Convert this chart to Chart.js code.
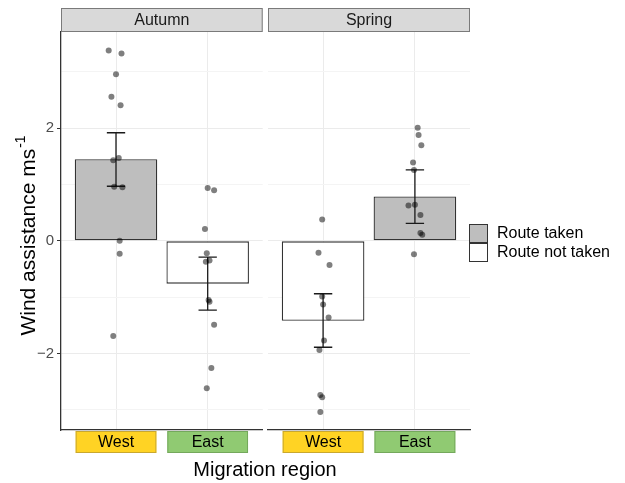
<!DOCTYPE html>
<html>
<head>
<meta charset="utf-8">
<script src="https://cdn.jsdelivr.net/npm/chart.js@4.4.1/dist/chart.umd.min.js"></script>
<style>
    body { margin: 0; background: #fff; }
    #wrap { position: relative; width: 625px; height: 483px; }
</style>
</head>
<body>
<div id="wrap">
    <div style="position:absolute;left:0;top:0;width:625px;height:483px"><canvas id="autumn-chart"></canvas></div>
    <div style="position:absolute;left:263px;top:0;width:362px;height:483px"><canvas id="spring-chart"></canvas></div>
</div>
<script>
// Facets, categories and legend
const seasons = ['Autumn', 'Spring'];
const regions = ['West', 'East'];
const routeLabels = ['Route taken', 'Route not taken'];

// Mean wind assistance (bars) and error bar limits, West then East
const autumnMeans = [1.45, -0.76];
const autumnLow = [0.97, -1.23];
const autumnHigh = [1.92, -0.29];
const autumnTaken = [true, false];

const springMeans = [-1.42, 0.79];
const springLow = [-1.89, 0.31];
const springHigh = [-0.94, 1.26];
const springTaken = [false, true];

// Individual (jittered) points, x = 1 West, 2 East
const autumnPointsX = [0.92, 1.06, 1.00, 0.95, 1.05, 1.03, 0.97, 0.98, 1.07, 1.04, 1.04, 0.97,
                       2.00, 2.07, 1.97, 1.99, 1.98, 2.02, 2.01, 2.02, 2.07, 2.04, 1.99];
const autumnPointsY = [3.38, 3.33, 2.96, 2.56, 2.41, 1.47, 1.43, 0.96, 0.95, 0.00, -0.23, -1.69,
                       0.94, 0.90, 0.21, -0.22, -0.37, -0.35, -1.05, -1.08, -1.49, -2.26, -2.62];
const springPointsX = [0.99, 0.95, 1.07, 0.99, 1.00, 1.06, 1.01, 0.96, 0.97, 0.99, 0.97,
                       2.03, 2.04, 2.07, 1.98, 1.99, 1.93, 2.00, 2.06, 2.06, 2.08, 1.99];
const springPointsY = [0.38, -0.21, -0.43, -0.99, -1.13, -1.36, -1.77, -1.94, -2.74, -2.78, -3.04,
                       2.01, 1.88, 1.70, 1.39, 1.26, 0.63, 0.64, 0.46, 0.14, 0.11, -0.24];

// Axis
const yMin = -3.36;
const yMax = 3.71;
const yGridValues = [-3, -2, -1, 0, 1, 2, 3];

const FONT = "'Liberation Sans', Arial, sans-serif";
const TAKEN_COLOR = '#bebebe';
const NOT_TAKEN_COLOR = '#ffffff';
const REGION_FILL = ['#ffd324', '#90ca72'];
const REGION_BORDER = ['#c9a82e', '#74a85c'];

document.addEventListener('DOMContentLoaded', function() {
    makePanel('autumn-chart', 0, autumnMeans, autumnLow, autumnHigh, autumnTaken, autumnPointsX, autumnPointsY);
    makePanel('spring-chart', 1, springMeans, springLow, springHigh, springTaken, springPointsX, springPointsY);
});

// draws error bars right after the bars so the points stay on top
const errorBarPlugin = {
    id: 'errorBars',
    afterDatasetDraw(chart, args, opts) {
        if (args.index !== 0) return;
        const ctx = chart.ctx;
        const x = chart.scales.x, y = chart.scales.y;
        ctx.save();
        ctx.strokeStyle = '#1a1a1a';
        ctx.lineWidth = 1.3;
        opts.low.forEach((lo, i) => {
            const cx = x.getPixelForValue(i + 1);
            const l = x.getPixelForValue(i + 0.9);
            const r = x.getPixelForValue(i + 1.1);
            const yl = y.getPixelForValue(lo);
            const yh = y.getPixelForValue(opts.high[i]);
            ctx.beginPath();
            ctx.moveTo(cx, yl); ctx.lineTo(cx, yh);
            ctx.moveTo(l, yl); ctx.lineTo(r, yl);
            ctx.moveTo(l, yh); ctx.lineTo(r, yh);
            ctx.stroke();
        });
        ctx.restore();
    }
};

// strip on top, coloured region labels below, titles and legend
const facetPlugin = {
    id: 'facet',
    afterDraw(chart, args, opts) {
        const ctx = chart.ctx;
        const a = chart.chartArea;
        const x = chart.scales.x;
        ctx.save();

        ctx.fillStyle = '#d9d9d9';
        ctx.fillRect(a.left, 8, a.right - a.left, a.top - 8);
        ctx.strokeStyle = '#7a7a7a';
        ctx.lineWidth = 1;
        ctx.strokeRect(a.left + 0.5, 8.5, a.right - a.left - 1, a.top - 9);
        ctx.fillStyle = '#1a1a1a';
        ctx.font = '16px ' + FONT;
        ctx.textAlign = 'center';
        ctx.textBaseline = 'middle';
        ctx.fillText(seasons[opts.facet], (a.left + a.right) / 2, 20.5);

        regions.forEach((name, i) => {
            const l = x.getPixelForValue(i + 0.56);
            const r = x.getPixelForValue(i + 1.44);
            ctx.fillStyle = REGION_FILL[i];
            ctx.fillRect(l, a.bottom + 1, r - l, 22);
            ctx.strokeStyle = REGION_BORDER[i];
            ctx.strokeRect(l + 0.5, a.bottom + 1.5, r - l - 1, 21);
            ctx.fillStyle = '#000';
            ctx.font = '16px ' + FONT;
            ctx.fillText(name, x.getPixelForValue(i + 1), a.bottom + 12.5);
        });

        if (opts.facet === 0) {
            // y axis title with superscript
            ctx.translate(27, 236);
            ctx.rotate(-Math.PI / 2);
            ctx.fillStyle = '#000';
            ctx.textAlign = 'left';
            ctx.font = '21px ' + FONT;
            const main = 'Wind assistance ms';
            const w1 = ctx.measureText(main).width;
            ctx.font = '14px ' + FONT;
            const w2 = ctx.measureText('-1').width;
            const start = -(w1 + w2) / 2;
            ctx.font = '21px ' + FONT;
            ctx.fillText(main, start, 2);
            ctx.font = '14px ' + FONT;
            ctx.fillText('-1', start + w1 + 1, -6);
            ctx.setTransform(1, 0, 0, 1, 0, 0);

            ctx.font = '20px ' + FONT;
            ctx.textAlign = 'center';
            ctx.fillText('Migration region', 265, 470);
        } else {
            // legend
            const kx = a.right - 1;
            [TAKEN_COLOR, NOT_TAKEN_COLOR].forEach((c, i) => {
                const ky = 224 + i * 19;
                ctx.fillStyle = c;
                ctx.fillRect(kx, ky, 19, 19);
                ctx.strokeStyle = '#333';
                ctx.strokeRect(kx + 0.5, ky + 0.5, 18, 18);
                ctx.fillStyle = '#000';
                ctx.font = '16px ' + FONT;
                ctx.textAlign = 'left';
                ctx.fillText(routeLabels[i], kx + 28, ky + 10);
            });
        }
        ctx.restore();
    }
};

function makePanel(canvasId, facet, means, low, high, taken, px, py) {
    const ctx = document.getElementById(canvasId).getContext('2d');
    const first = facet === 0;

    return new Chart(ctx, {
        type: 'bar',
        data: {
            datasets: [{
                type: 'bar',
                data: means.map((m, i) => ({ x: i + 1, y: m })),
                backgroundColor: taken.map(t => t ? TAKEN_COLOR : NOT_TAKEN_COLOR),
                borderColor: '#333333',
                borderWidth: 1.3,
                borderSkipped: false,
                barPercentage: 0.9,
                categoryPercentage: 1,
                order: 2
            }, {
                type: 'scatter',
                data: px.map((v, i) => ({ x: v, y: py[i] })),
                backgroundColor: 'rgba(0, 0, 0, 0.5)',
                borderWidth: 0,
                pointRadius: 3,
                order: 0
            }]
        },
        options: {
            responsive: true,
            maintainAspectRatio: false,
            animation: false,
            layout: {
                padding: first ? { top: 32, bottom: 53, left: 0, right: 362.3 }
                               : { top: 32, bottom: 53, left: 5, right: 155 }
            },
            plugins: {
                legend: { display: false },
                tooltip: { enabled: false },
                errorBars: { low: low, high: high },
                facet: { facet: facet }
            },
            scales: {
                x: {
                    type: 'linear',
                    min: 0.4,
                    max: 2.6,
                    offset: false,
                    afterBuildTicks: s => { s.ticks = [{ value: 1 }, { value: 2 }]; },
                    afterFit: s => { s.height = 0; },
                    ticks: { display: false },
                    grid: { color: '#ebebeb', drawTicks: false, offset: false },
                    border: { color: '#333333', width: 1.3 }
                },
                y: {
                    min: yMin,
                    max: yMax,
                    afterBuildTicks: s => { s.ticks = yGridValues.map(v => ({ value: v })); },
                    afterFit: s => { s.width = first ? 61 : 0; },
                    ticks: {
                        display: first,
                        padding: 3,
                        color: '#4d4d4d',
                        font: { family: FONT, size: 15 },
                        callback: v => v % 2 === 0 ? String(v).replace('-', '\u2212') : ''
                    },
                    grid: {
                        color: c => c.tick && c.tick.value % 2 === 0 ? '#ebebeb' : '#f4f4f4',
                        drawTicks: first,
                        tickLength: 4,
                        tickColor: c => c.tick && c.tick.value % 2 === 0 ? '#333333' : 'rgba(0,0,0,0)'
                    },
                    border: { display: first, color: '#333333', width: 1.3 }
                }
            }
        },
        plugins: [errorBarPlugin, facetPlugin]
    });
}
</script>
</body>
</html>
